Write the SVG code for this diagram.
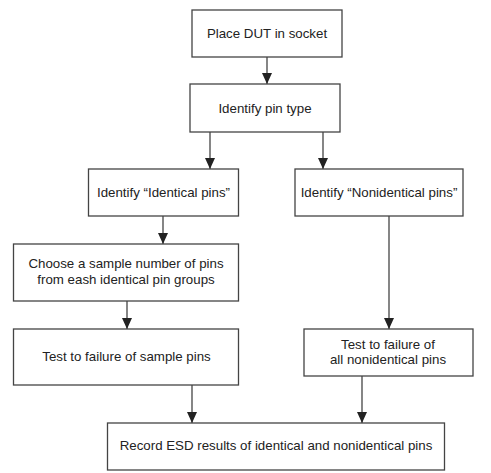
<svg xmlns="http://www.w3.org/2000/svg" width="491" height="473" viewBox="0 0 491 473">
<defs>
<marker id="ah" markerWidth="11" markerHeight="10" refX="11" refY="5" orient="auto" markerUnits="userSpaceOnUse" viewBox="0 0 11 10">
<path d="M0,0 L11,5 L0,10 Z" fill="#222"/>
</marker>
</defs>
<style>
.b{fill:#fff;stroke:#444;stroke-width:1.3}
.t{font-family:"Liberation Sans",Arial,sans-serif;font-size:13.3px;fill:#222;text-anchor:middle}
.c{stroke:#444;stroke-width:1.3;fill:none}
.a{marker-end:url(#ah)}
</style>
<rect width="491" height="473" fill="#fff"/>
<g id="connectors">
<line class="c a" x1="267" y1="57" x2="267" y2="84"/>
<line class="c a" x1="210" y1="132" x2="210" y2="169"/>
<line class="c a" x1="323" y1="132" x2="323" y2="169"/>
<line class="c a" x1="163" y1="216" x2="163" y2="244"/>
<line class="c a" x1="389" y1="216" x2="389" y2="329"/>
<line class="c a" x1="127" y1="301" x2="127" y2="329"/>
<line class="c a" x1="192" y1="385" x2="192" y2="423"/>
<line class="c a" x1="362" y1="376" x2="362" y2="423"/>
</g>
<g id="n1"><rect class="b" x="192" y="10" width="150" height="47"/><text class="t" x="267" y="38">Place DUT in socket</text></g>
<g id="n2"><rect class="b" x="190" y="84" width="150" height="48"/><text class="t" x="265" y="112.5">Identify pin type</text></g>
<g id="n3"><rect class="b" x="88.5" y="169" width="150" height="47"/><text class="t" x="163.5" y="197">Identify “Identical pins”</text></g>
<g id="n4"><rect class="b" x="295" y="169" width="168" height="47"/><text class="t" x="379" y="197">Identify “Nonidentical pins”</text></g>
<g id="n5"><rect class="b" x="13.5" y="244" width="225" height="57"/><text class="t" x="126" y="268">Choose a sample number of pins</text><text class="t" x="126" y="284">from eash identical pin groups</text></g>
<g id="n6"><rect class="b" x="13.5" y="329" width="225" height="56"/><text class="t" x="126.5" y="361">Test to failure of sample pins</text></g>
<g id="n7"><rect class="b" x="304" y="329" width="169" height="47"/><text class="t" x="388" y="349">Test to failure of</text><text class="t" x="388" y="363.5">all nonidentical pins</text></g>
<g id="n8"><rect class="b" x="107.5" y="423" width="337" height="47"/><text class="t" x="276" y="450">Record ESD results of identical and nonidentical pins</text></g>
</svg>
